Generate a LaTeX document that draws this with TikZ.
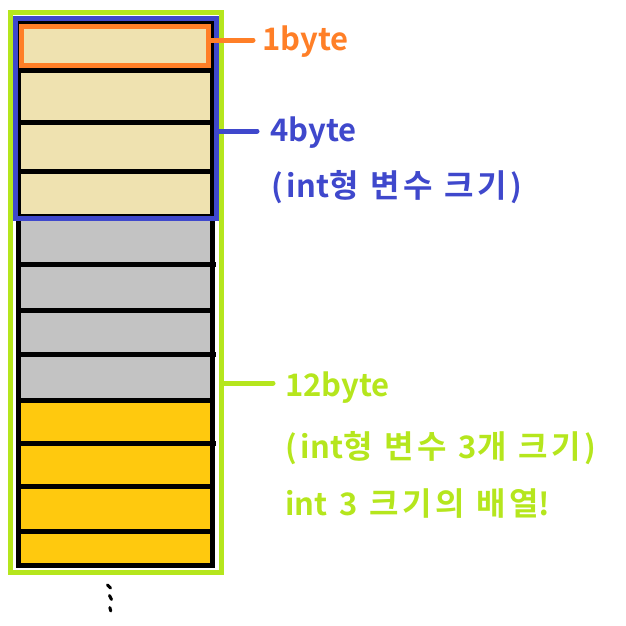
\documentclass[tikz,border=0pt]{standalone}
\usepackage{fontspec}
\newfontfamily\kr{Noto Sans CJK KR Bold}
\newfontfamily\krw{Noto Sans CJK KR Bold}[LetterSpace=10]
\newcommand{\hg}[1]{{\krw\fontsize{32}{32}\selectfont #1}}
\newcommand{\lblfont}{\kr\fontsize{31}{31}\selectfont\spaceskip=12pt\relax}
\newcommand{\lp}{(\kern4pt}
\newcommand{\rp}{\kern4pt)}
\definecolor{tanc}{HTML}{EFE2B0}
\definecolor{grayc}{HTML}{C3C3C3}
\definecolor{goldc}{HTML}{FFC90E}
\definecolor{orangec}{HTML}{FF7F27}
\definecolor{bluec}{HTML}{3F48CC}
\definecolor{limec}{HTML}{B5E61D}
\begin{document}
\begin{tikzpicture}[x=1pt,y=-1pt,
  divider/.style={black,line width=5pt},
  frame/.style={line width=5pt},
  lead/.style={line width=5pt,line cap=round},
  lbl/.style={anchor=base west,inner sep=0pt,font=\lblfont},
  dotmark/.style={black,line width=3pt,line cap=round}]
\useasboundingbox (0,0) rectangle (626,625);
% cells
\fill[tanc] (18.5,22) rectangle (212.5,216);
\fill[grayc] (18.5,216) rectangle (212.5,400.5);
\fill[goldc] (18.5,400.5) rectangle (212.5,565);
% dividers
\foreach \y in {70,122.5,171.5,216,310,400.5,486.5,531.5}
  \draw[divider] (18.5,\y) -- (212.5,\y);
\foreach \y in {264.5,354.5,443.5}
  \draw[divider] (18.5,\y) -- (216,\y);
\draw[divider] (18.5,22) rectangle (212.5,565);
% frames
\draw[frame,bluec] (15.5,18) rectangle (216.5,218);
\draw[frame,orangec] (21.5,26.5) rectangle (208.5,65);
\draw[frame,limec] (10.5,12.5) rectangle (221.5,572);
\coordinate (oR) at (211,40);
\coordinate (bR) at (219,131);
\coordinate (gR) at (224,383);
% labels
\node[lbl,text=orangec] (t1) at (262,50) {1byte};
\node[lbl,text=bluec] (t4) at (270,141) {4byte};
\node[lbl,text=bluec] (t4b) at (271,197) {\lp int\hg{형} \hg{변수} \hg{크기}\rp};
\node[lbl,text=limec] (t12) at (285,396) {12byte};
\node[lbl,text=limec] (t12b) at (285,458) {\lp int\hg{형} \hg{변수} 3\hg{개} \hg{크기}\rp};
\node[lbl,text=limec] (t12c) at (285,515) {int 3 \hg{크기의} \hg{배열}!};
\coordinate (oE) at (253,40);
\coordinate (bE) at (257,131);
\coordinate (gE) at (273,383);
\draw[lead,orangec] (oR) -- (oE);
\draw[lead,bluec] (bR) -- (bE);
\draw[lead,limec] (gR) -- (gE);
% ellipsis dots
\draw[dotmark] (107.5,585) -- (110.5,588);
\draw[dotmark] (109.5,595.5) -- (111.5,599.5);
\draw[dotmark] (109.8,607.5) -- (110.8,611);
\end{tikzpicture}
\end{document}
